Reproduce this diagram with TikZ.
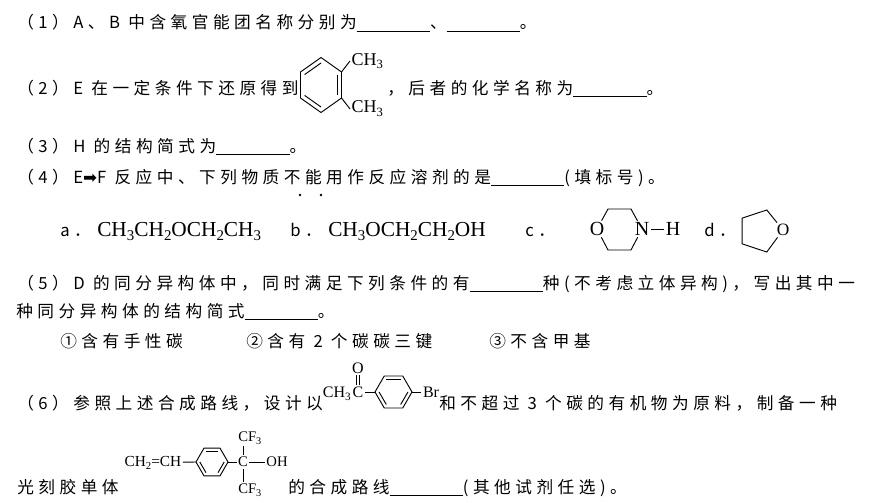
\documentclass[tikz,border=0pt]{standalone}
\usepackage{fontspec}
\setmainfont{Liberation Serif}
\newfontfamily\cjk[LetterSpace=27]{Noto Sans CJK SC}
\newfontfamily\dejavu{DejaVu Sans}
\usetikzlibrary{calc}
\newcommand\blank{\rule[-2pt]{55pt}{0.7pt}}
\newcommand\sub[1]{\raisebox{-0.45ex}{\scalebox{0.7}{#1}}}
\tikzset{
  line/.style={anchor=base west, inner sep=0pt, font=\cjk\fontsize{12.5}{15}\selectfont},
  formula/.style={anchor=base west, inner sep=0pt, font=\fontsize{16}{18}\selectfont},
  atom/.style={inner sep=1pt, font=\fontsize{11}{13}\selectfont},
  bond/.style={line width=0.7pt},
}
\begin{document}
\begin{tikzpicture}[x=0.75pt,y=-0.75pt]
  \useasboundingbox (0,0) rectangle (871,503);

  % (1)
  \node[line] (q1) at (17,29) {（1）A、B 中含氧官能团名称分别为\blank、\blank。};

  % (2) with o-xylene
  \node[line] (q2a) at (17,94) {（2）E 在一定条件下还原得到};
  \coordinate (xc) at (321,85);
  \coordinate (x1) at (321,57.5);
  \coordinate (x2) at (341.5,72);
  \coordinate (x3) at (341.5,98);
  \coordinate (x4) at (321,112.5);
  \coordinate (x5) at (300.5,98);
  \coordinate (x6) at (300.5,72);
  \draw[bond] (x1) -- (x2) -- (x3) -- (x4) -- (x5) -- (x6) -- cycle;
  \draw[bond] ($(xc)!.8!(x2)$) -- ($(xc)!.8!(x3)$);
  \draw[bond] ($(xc)!.8!(x4)$) -- ($(xc)!.8!(x5)$);
  \draw[bond] ($(xc)!.8!(x6)$) -- ($(xc)!.8!(x1)$);
  \node[atom, anchor=base west, font=\fontsize{13.5}{15}\selectfont] (me1) at (350,65) {CH\sub{3}};
  \node[atom, anchor=base west, font=\fontsize{13.5}{15}\selectfont] (me2) at (350,113) {CH\sub{3}};
  \draw[bond] (x2) -- (me1.west);
  \draw[bond] (x3) -- (me2.west);
  \node[line] (q2b) at (387,94) {，后者的化学名称为\blank。};

  % (3)
  \node[line] (q3) at (17,152) {（3）H 的结构简式为\blank。};

  % (4)
  \node[line] (q4) at (17,183) {（4）E{\dejavu ➡}F 反应中、下列物质不能用作反应溶剂的是\blank(填标号)。};
  \fill (300,195) circle (1.3);
  \fill (321,195) circle (1.3);

  % options a--d
  \node[line] (oa) at (60,236) {a．};
  \node[formula] (fa) at (97,236) {CH\sub{3}CH\sub{2}OCH\sub{2}CH\sub{3}};
  \node[line] (ob) at (290,236) {b．};
  \node[formula] (fb) at (328,236) {CH\sub{3}OCH\sub{2}CH\sub{2}OH};
  \node[line] (oc) at (525,236) {c．};
  \node[atom, font=\fontsize{15}{18}\selectfont] (mo) at (597,229) {O};
  \node[atom, font=\fontsize{15}{18}\selectfont] (mn) at (642,229) {N};
  \node[atom, font=\fontsize{15}{18}\selectfont] (mh) at (673,229) {H};
  \coordinate (m1) at (608,209);
  \coordinate (m2) at (631,209);
  \coordinate (m3) at (631,250);
  \coordinate (m4) at (608,250);
  \draw[bond] (mo) -- (m1) -- (m2) -- (mn) -- (m3) -- (m4) -- (mo);
  \draw[bond] (mn) -- (mh);
  \node[line] (od) at (704,236) {d．};
  \node[atom, font=\fontsize{13}{15}\selectfont] (to) at (783,230) {O};
  \coordinate (t1) at (766.8,210);
  \coordinate (t2) at (742.2,218.1);
  \coordinate (t3) at (742.2,243.9);
  \coordinate (t4) at (766.8,252);
  \draw[bond] (to) -- (t1) -- (t2) -- (t3) -- (t4) -- (to);

  % (5)
  \node[line] (q5) at (17,289) {（5）D 的同分异构体中，同时满足下列条件的有\blank 种(不考虑立体异构)，写出其中一};
  \node[line] (q5b) at (16,317) {种同分异构体的结构简式\blank。};
  \node[line] (c1) at (60,347) {①含有手性碳};
  \node[line] (c2) at (246,347) {②含有 2 个碳碳三键};
  \node[line] (c3) at (489,347) {③不含甲基};

  % (6) with 4-bromoacetophenone
  \node[line] (q6a) at (17,409) {（6）参照上述合成路线，设计以};
  \node[atom, font=\fontsize{12}{14}\selectfont] (k1) at (358,392) {C};
  \node[atom, font=\fontsize{12}{14}\selectfont, anchor=base east, inner sep=0pt] (k0) at (k1.base west) {CH\sub{3}};
  \node[atom, font=\fontsize{12}{14}\selectfont] (k2) at (358,368) {O};
  \draw[bond] ([xshift=-1.1pt]k1.north) -- ([xshift=-1.1pt]k2.south);
  \draw[bond] ([xshift=1.1pt]k1.north) -- ([xshift=1.1pt]k2.south);
  \coordinate (b0) at (393.5,392);
  \coordinate (b1) at (375,392);
  \coordinate (b2) at (384.25,376);
  \coordinate (b3) at (402.75,376);
  \coordinate (b4) at (412,392);
  \coordinate (b5) at (402.75,408);
  \coordinate (b6) at (384.25,408);
  \draw[bond] (b1) -- (b2) -- (b3) -- (b4) -- (b5) -- (b6) -- cycle;
  \draw[bond] ($(b0)!.78!(b2)$) -- ($(b0)!.78!(b3)$);
  \draw[bond] ($(b0)!.78!(b4)$) -- ($(b0)!.78!(b5)$);
  \draw[bond] ($(b0)!.78!(b6)$) -- ($(b0)!.78!(b1)$);
  \draw[bond] (k1) -- (b1);
  \node[atom, font=\fontsize{12}{14}\selectfont] (br) at (431,392) {Br};
  \draw[bond] (b4) -- (br);
  \node[line] (q6b) at (439,409) {和不超过 3 个碳的有机物为原料，制备一种};

  % monomer
  \node[line] (q6c) at (17,493) {光刻胶单体};
  \node[atom, anchor=base west, font=\fontsize{11.5}{13}\selectfont] (v1) at (123,466) {CH\sub{2}=CH};
  \coordinate (p0) at (212,462);
  \coordinate (p1) at (196,462);
  \coordinate (p2) at (204,448.1);
  \coordinate (p3) at (220,448.1);
  \coordinate (p4) at (228,462);
  \coordinate (p5) at (220,475.9);
  \coordinate (p6) at (204,475.9);
  \draw[bond] (p1) -- (p2) -- (p3) -- (p4) -- (p5) -- (p6) -- cycle;
  \draw[bond] ($(p0)!.76!(p2)$) -- ($(p0)!.76!(p3)$);
  \draw[bond] ($(p0)!.76!(p4)$) -- ($(p0)!.76!(p5)$);
  \draw[bond] ($(p0)!.76!(p6)$) -- ($(p0)!.76!(p1)$);
  \draw[bond] (v1) -- (p1);
  \node[atom] (q) at (243,462) {C};
  \draw[bond] (p4) -- (q);
  \node[atom, anchor=base west] (cf1) at (236.7,441) {CF\sub{3}};
  \node[atom, anchor=base west] (cf2) at (236.7,493) {CF\sub{3}};
  \draw[bond] (q) -- (q |- cf1.south);
  \draw[bond] (q) -- (q |- cf2.north);
  \node[atom] (oh) at (277,462) {OH};
  \draw[bond] (q) -- (oh);
  \node[line] (q6d) at (288,493) {的合成路线\blank(其他试剂任选)。};
\end{tikzpicture}
\end{document}
